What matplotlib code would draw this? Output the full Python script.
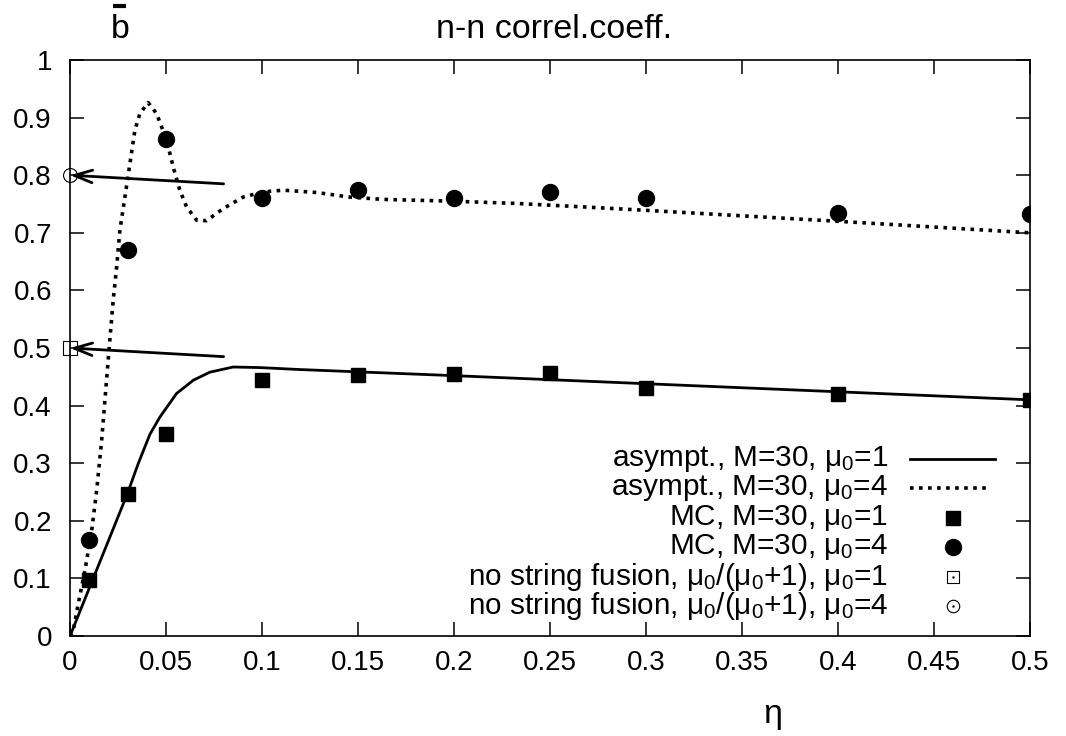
import matplotlib
matplotlib.use("Agg")
import matplotlib.pyplot as plt
from matplotlib.lines import Line2D

plt.rcParams['font.family'] = ['Liberation Sans', 'DejaVu Sans']
plt.rcParams['mathtext.fontset'] = 'custom'
plt.rcParams['mathtext.rm'] = 'Liberation Sans'
plt.rcParams['mathtext.it'] = 'Liberation Sans'
plt.rcParams['mathtext.bf'] = 'Liberation Sans:bold'

# asymptotic curves
eta_asym1 = [0, 0.0104, 0.0208, 0.030, 0.0355, 0.0416, 0.0468, 0.0555, 0.0642, 0.0728, 0.085,
             0.0989, 0.1197, 0.2, 0.3, 0.4, 0.5]
b_asym1 = [0, 0.086, 0.172, 0.248, 0.299, 0.35, 0.380, 0.421, 0.444, 0.458, 0.467,
           0.466, 0.4626, 0.452, 0.438, 0.424, 0.41]
eta_asym4 = [0, 0.0017, 0.0043, 0.0078, 0.0113, 0.0139, 0.0165, 0.0191, 0.0208, 0.0225, 0.0243,
             0.026, 0.0286, 0.0312, 0.0338, 0.0364, 0.0407, 0.0451, 0.0503, 0.0537, 0.0572,
             0.0607, 0.0659, 0.0711, 0.0798, 0.0902, 0.1006, 0.111, 0.1283, 0.1457, 0.163,
             0.1977, 0.2324, 0.2671, 0.30, 0.4, 0.5]
b_asym4 = [0, 0.0096, 0.056, 0.114, 0.183, 0.253, 0.340, 0.447, 0.516, 0.583, 0.641,
           0.705, 0.762, 0.820, 0.878, 0.907, 0.926, 0.907, 0.861, 0.815, 0.774,
           0.745, 0.722, 0.721, 0.742, 0.762, 0.771, 0.774, 0.770, 0.762, 0.758,
           0.755, 0.751, 0.745, 0.739, 0.72, 0.70]

# Monte Carlo points
eta_mc = [0.01, 0.03, 0.05, 0.1, 0.15, 0.2, 0.25, 0.3, 0.4, 0.5]
b_mc1 = [0.097, 0.247, 0.35, 0.445, 0.453, 0.455, 0.456, 0.43, 0.42, 0.41]
b_mc4 = [0.167, 0.67, 0.862, 0.76, 0.774, 0.76, 0.77, 0.76, 0.735, 0.732]

# no string fusion limits mu0/(mu0+1)
mu0 = [1, 4]
b_nofusion = [m / (m + 1.0) for m in mu0]
arrow_tail_eta = 0.08
arrow_tail_b = [0.485, 0.785]

legend_labels = [
    r'asympt., M=30, $\mu_0$=1',
    r'asympt., M=30, $\mu_0$=4',
    r'MC, M=30, $\mu_0$=1',
    r'MC, M=30, $\mu_0$=4',
    r'no string fusion, $\mu_0$/($\mu_0$+1), $\mu_0$=1',
    r'no string fusion, $\mu_0$/($\mu_0$+1), $\mu_0$=4',
]

FS_TICK = 20
FS_LEG = 21.4
FS_TITLE = 24.5

fig = plt.figure(figsize=(10.66, 7.36), dpi=100)
ax = fig.add_axes([70/1066, 1-636/736, (1030-70)/1066, (636-60)/736])

dotted = (0, (1.0, 1.5))
ax.plot(eta_asym1, b_asym1, color='black', lw=2.0, solid_capstyle='butt', solid_joinstyle='round')
ax.plot(eta_asym4, b_asym4, color='black', lw=2.6, linestyle=dotted)
ax.plot(eta_mc, b_mc1, linestyle='none', marker='s', ms=10.5, color='black')
ax.plot(eta_mc, b_mc4, linestyle='none', marker='o', ms=11.5, color='black')

for bt, bn in zip(arrow_tail_b, b_nofusion):
    ax.annotate('', xy=(0, bn), xytext=(arrow_tail_eta, bt),
                arrowprops=dict(arrowstyle='->,head_length=1.3,head_width=0.45', lw=2.0,
                                color='black', shrinkA=0, shrinkB=0),
                annotation_clip=False)

ax.plot([0], [b_nofusion[0]], linestyle='none', marker='s', ms=10, mfc='none', mec='black', mew=0.8, clip_on=False, zorder=5)
ax.plot([0], [b_nofusion[1]], linestyle='none', marker='o', ms=10, mfc='none', mec='black', mew=0.8, clip_on=False, zorder=5)

ax.set_xlim(0, 0.5)
ax.set_ylim(0, 1)
ax.set_xticks([0, 0.05, 0.1, 0.15, 0.2, 0.25, 0.3, 0.35, 0.4, 0.45, 0.5])
ax.set_xticklabels(['0', '0.05', '0.1', '0.15', '0.2', '0.25', '0.3', '0.35', '0.4', '0.45', '0.5'])
ax.set_yticks([0, 0.1, 0.2, 0.3, 0.4, 0.5, 0.6, 0.7, 0.8, 0.9, 1])
ax.set_yticklabels(['0', '0.1', '0.2', '0.3', '0.4', '0.5', '0.6', '0.7', '0.8', '0.9', '1'])
ax.tick_params(direction='in', length=10, width=1.1, top=True, right=True, labelsize=FS_TICK, pad=13, colors='black')
ax.tick_params(axis='x', pad=10)
for s in ax.spines.values():
    s.set_linewidth(1.2)

# manual legend (right-aligned labels, gnuplot style)
row_y_px = [459, 488, 518, 547, 577, 606]
def ax_y(px):
    return (636 - px) / (636 - 60)
def ax_x(px):
    return (px - 70) / (1030 - 70)
for i, (lab, ypx) in enumerate(zip(legend_labels, row_y_px)):
    ya = ax_y(ypx)
    ax.text(ax_x(888), ya, lab, transform=ax.transAxes, ha='right', va='center', fontsize=FS_LEG)
    if i == 0:
        ax.add_line(Line2D([ax_x(910), ax_x(995)], [ya, ya], transform=ax.transAxes, color='black', lw=2.0))
    elif i == 1:
        ax.add_line(Line2D([ax_x(910), ax_x(990)], [ya, ya], transform=ax.transAxes, color='black', lw=2.6, linestyle=dotted))
    elif i == 2:
        ax.add_line(Line2D([ax_x(953)], [ya], transform=ax.transAxes, marker='s', ms=10.5, color='black', linestyle='none'))
    elif i == 3:
        ax.add_line(Line2D([ax_x(953)], [ya], transform=ax.transAxes, marker='o', ms=11.5, color='black', linestyle='none'))
    elif i == 4:
        ax.add_line(Line2D([ax_x(953)], [ya], transform=ax.transAxes, marker='s', ms=8.5, mfc='white', mec='black', mew=0.8, linestyle='none'))
        ax.add_line(Line2D([ax_x(953)], [ya], transform=ax.transAxes, marker='.', ms=1.5, color='black', linestyle='none'))
    else:
        ax.add_line(Line2D([ax_x(953)], [ya], transform=ax.transAxes, marker='o', ms=9, mfc='white', mec='black', mew=0.8, linestyle='none'))
        ax.add_line(Line2D([ax_x(953)], [ya], transform=ax.transAxes, marker='.', ms=1.5, color='black', linestyle='none'))

fig.text(554/1066, 1-38/736, 'n-n correl.coeff.', ha='center', va='baseline', fontsize=FS_TITLE)
fig.text(120/1066, 1-38/736, 'b', ha='center', va='baseline', fontsize=FS_TITLE)
fig.add_artist(Line2D([113/1066, 126/1066], [1-6/736, 1-6/736], transform=fig.transFigure, color='black', lw=3.0, solid_capstyle='butt'))
fig.text(773/1066, 1-723/736, 'η', ha='center', va='baseline', fontsize=FS_TITLE)

fig.savefig('out.png', dpi=100)
